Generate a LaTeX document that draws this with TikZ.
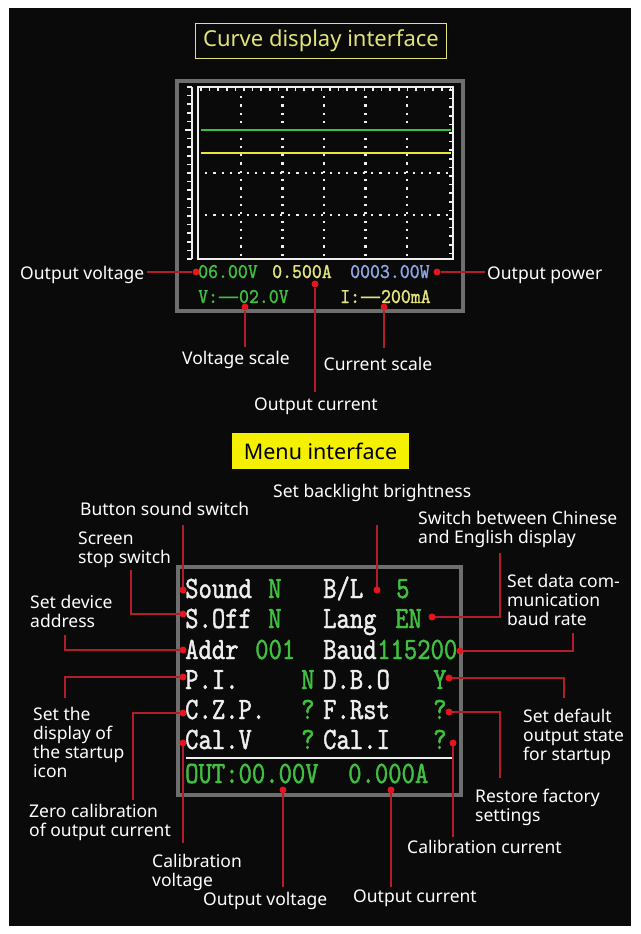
\documentclass[tikz,border=0pt]{standalone}
\usepackage{fontspec}
\setmainfont{Noto Sans}
\newfontfamily\lcdA[FakeStretch=0.9,FakeBold=1.2]{lmmono10-regular.otf}
\newfontfamily\lcdB[FakeStretch=0.82,FakeBold=1.4]{lmmono10-regular.otf}
\newfontfamily\dashfont{Noto Sans}
\definecolor{lnred}{HTML}{B01E2C}
\definecolor{dotred}{HTML}{E3151F}
\definecolor{scrgreen}{HTML}{40C040}
\definecolor{scryellow}{HTML}{E4E47C}
\definecolor{lineyellow}{HTML}{E6E63C}
\definecolor{scrblue}{HTML}{8EA6E4}
\definecolor{framegray}{HTML}{6E6E6E}
\definecolor{ttlyellow}{HTML}{F4F000}
\definecolor{ttlpale}{HTML}{E2E27A}
\definecolor{bgblack}{HTML}{0A0A0A}
\definecolor{scrwhite}{HTML}{EEEEEE}
\begin{document}
\begin{tikzpicture}[x=1pt,y=-1pt,
  lbl/.style={text=white, font=\fontsize{17.5}{19.3}\selectfont, inner sep=0pt, align=left},
  conn/.style={draw=lnred, line width=2pt},
  rdot/.style={circle, fill=dotred, minimum size=7pt, inner sep=0pt},
  ctxt/.style={font=\lcdA\fontsize{21}{21}\selectfont, inner sep=0pt, anchor=base west},
  mtxt/.style={font=\lcdB\fontsize{31}{31}\selectfont, inner sep=0pt, anchor=base west},
  frame/.style={draw=framegray, line width=4pt},
  grid/.style={draw=scrwhite, line width=2.2pt, dash pattern=on 2.2pt off 6.1pt}]
\useasboundingbox (0,0) rectangle (640,934);
\fill[white] (0,0) rectangle (640,934);
\fill[bgblack] (9,8) rectangle (631,926);

% ---------- Curve display interface ----------
\node[draw=ttlpale, line width=1.5pt, text=ttlpale, font=\fontsize{22}{22}\selectfont,
      minimum width=251pt, minimum height=35pt, inner sep=0pt] (ttlCurve) at (321,41) {Curve display interface};

\draw[frame] (177,81) rectangle (462.5,311);
% plot area
\draw[scrwhite, line width=2pt] (198,87) rectangle (453,259);
\foreach \i in {0,...,29} \draw[scrwhite, line width=1.5pt] ({201+\i*8.6},87) -- ++(0,4);
\foreach \i in {0,...,19} \draw[scrwhite, line width=1.5pt] (453,{90+\i*8.6}) -- ++(-4,0);
\draw[scrwhite, line width=1.8pt] (192,87) -- (192,259);
\foreach \i in {0,...,20} \draw[scrwhite, line width=1.5pt] (187,{87+\i*8.6}) -- (192,{87+\i*8.6});
\draw[scrwhite, line width=1.5pt] (185,130) -- (192,130);
\foreach \x in {241,282.5,324,365.5,407} \draw[grid] (\x,96) -- (\x,258);
\foreach \y in {173,215} \draw[grid] (205,\y) -- (452,\y);
\draw[scrgreen, line width=2.5pt] (201,130) -- (451,130);
\draw[lineyellow, line width=2pt] (201,153) -- (451,153);

\node[ctxt, text=scrgreen] (cV) at (198,278) {06.00V};
\node[ctxt, text=scryellow] (cI) at (272,278) {0.500A};
\node[ctxt, text=scrblue] (cP) at (350,278) {0003.00W};
\node[ctxt, text=scrgreen] (cVs) at (198,303) {V:{\dashfont —}02.0V};
\node[ctxt, text=scryellow] (cIs) at (340,303) {I:{\dashfont —}200mA};

\node[lbl, anchor=base west] (lOVc) at (20,279) {Output voltage};
\node[lbl, anchor=base west] (lOPc) at (487,279) {Output power};
\node[lbl, anchor=base] (lVS) at (236,364) {Voltage scale};
\node[lbl, anchor=base] (lCS) at (378,370) {Current scale};
\node[lbl, anchor=base] (lOCc) at (316,410) {Output current};

\coordinate (cOV) at (147,272);
\coordinate (cOP) at (485,272);
\coordinate (cOC) at (315,392);
\coordinate (cVSe) at (245,347);
\coordinate (cCSe) at (384,348);
\node[rdot] (dOV) at (196,272) {};
\node[rdot] (dOP) at (437,272) {};
\node[rdot] (dOC) at (315,284) {};
\node[rdot] (dVS) at (245,307) {};
\node[rdot] (dCS) at (384,307) {};
\draw[conn] (dOV) -- (cOV);
\draw[conn] (dOP) -- (cOP);
\draw[conn] (dOC) -- (cOC);
\draw[conn] (dVS) -- (cVSe);
\draw[conn] (dCS) -- (cCSe);

% ---------- Menu interface ----------
\node[fill=ttlyellow, text=black, font=\fontsize{21.5}{21.5}\selectfont,
      minimum width=177pt, minimum height=36pt, inner sep=0pt] (ttlMenu) at (320.5,451) {Menu interface};

\draw[frame] (178,567) rectangle (461,795);
\node[mtxt, text=scrwhite] (mSound) at (185,598) {Sound};
\node[mtxt, text=scrgreen] (mSoundV) at (268,598) {N};
\node[mtxt, text=scrwhite] (mBL) at (323,598) {B/L};
\node[mtxt, text=scrgreen] (mBLV) at (396,598) {5};
\node[mtxt, text=scrwhite] (mSOff) at (185,628) {S.Off};
\node[mtxt, text=scrgreen] (mSOffV) at (268,628) {N};
\node[mtxt, text=scrwhite] (mLang) at (323,628) {Lang};
\node[mtxt, text=scrgreen] (mLangV) at (395,628) {EN};
\node[mtxt, text=scrwhite] (mAddr) at (185,659) {Addr};
\node[mtxt, text=scrgreen] (mAddrV) at (255,659) {001};
\node[mtxt, text=scrwhite] (mBaud) at (323,659) {Baud};
\node[mtxt, text=scrgreen] (mBaudV) at (377,659) {115200};
\node[mtxt, text=scrwhite] (mPI) at (185,689) {P.I.};
\node[mtxt, text=scrgreen] (mPIV) at (301,689) {N};
\node[mtxt, text=scrwhite] (mDBO) at (323,689) {D.B.O};
\node[mtxt, text=scrgreen] (mDBOV) at (433,689) {Y};
\node[mtxt, text=scrwhite] (mCZP) at (185,719) {C.Z.P.};
\node[mtxt, text=scrgreen] (mCZPV) at (301,719) {?};
\node[mtxt, text=scrwhite] (mFRst) at (323,719) {F.Rst};
\node[mtxt, text=scrgreen] (mFRstV) at (433,719) {?};
\node[mtxt, text=scrwhite] (mCalV) at (185,749) {Cal.V};
\node[mtxt, text=scrgreen] (mCalVV) at (301,749) {?};
\node[mtxt, text=scrwhite] (mCalI) at (323,749) {Cal.I};
\node[mtxt, text=scrgreen] (mCalIV) at (433,749) {?};
\draw[scrwhite, line width=2.5pt] (186,758) -- (453,758);
\node[mtxt, text=scrgreen] (mOutV) at (185,783) {OUT:00.00V};
\node[mtxt, text=scrgreen] (mOutI) at (348,783) {0.000A};

% labels
\node[lbl, anchor=base west] (lBL) at (273,497) {Set backlight brightness};
\node[lbl, anchor=base west] (lBS) at (80,515) {Button sound switch};
\node[lbl, anchor=north west] (lSS) at (78,530.35) {\strut Screen\\stop switch};
\node[lbl, anchor=north west] (lLang) at (418,510.35) {\strut Switch between Chinese\\and English display};
\node[lbl, anchor=north west] (lAddr) at (30,594.35) {\strut Set device\\address};
\node[lbl, anchor=north west] (lPI) at (33,706.35) {\strut Set the\\display of\\the startup\\icon};
\node[lbl, anchor=north west] (lCZP) at (29,803.35) {\strut Zero calibration\\of output current};
\node[lbl, anchor=north west] (lCalV) at (152,853.35) {\strut Calibration\\voltage};
\node[lbl, anchor=north west] (lBaud) at (507,573.35) {\strut Set data com-\\munication\\baud rate};
\node[lbl, anchor=north west] (lDBO) at (523,708.35) {\strut Set default\\output state\\for startup};
\node[lbl, anchor=north west] (lFRst) at (475,788.35) {\strut Restore factory\\settings};
\node[lbl, anchor=base west] (lCalI) at (407,853) {Calibration current};
\node[lbl, anchor=base west] (lOutV) at (203,905) {Output voltage};
\node[lbl, anchor=base west] (lOutI) at (353,902) {Output current};

% connector ends
\coordinate (eSound) at (183,525);
\coordinate (eSOff) at (131,570);
\coordinate (eAddr) at (65,635);
\coordinate (ePI) at (65,698);
\coordinate (eCZP) at (133,800);
\coordinate (eCalV) at (183,843);
\coordinate (eBL) at (377,525);
\coordinate (eLang) at (500,553);
\coordinate (eBaud) at (573,633);
\coordinate (eDBO) at (564,698);
\coordinate (eFRst) at (500,778);
\coordinate (eCalI) at (453,837);
\coordinate (eOutV) at (283,887);
\coordinate (eOutI) at (391,887);

\draw[conn] (183,590) -- (eSound);
\draw[conn] (183,614) -| (eSOff);
\draw[conn] (183,650) -| (eAddr);
\draw[conn] (183,677) -| (ePI);
\draw[conn] (183,713) -| (eCZP);
\draw[conn] (183,743) -- (eCalV);
\draw[conn] (377,590) -- (eBL);
\draw[conn] (432,617) -| (eLang);
\draw[conn] (460,651) -| (eBaud);
\draw[conn] (449,678) -| (eDBO);
\draw[conn] (449,712) -| (eFRst);
\draw[conn] (453,743) -- (eCalI);
\draw[conn] (283,790) -- (eOutV);
\draw[conn] (391,790) -- (eOutI);

\node[rdot] (dSound) at (183,590) {};
\node[rdot] (dSOff) at (183,614) {};
\node[rdot] (dAddr) at (183,650) {};
\node[rdot] (dPI) at (183,677) {};
\node[rdot] (dCZP) at (183,713) {};
\node[rdot] (dCalV) at (183,743) {};
\node[rdot] (dBL) at (377,590) {};
\node[rdot] (dLang) at (432,617) {};
\node[rdot] (dBaud) at (460,651) {};
\node[rdot] (dDBO) at (449,678) {};
\node[rdot] (dFRst) at (449,712) {};
\node[rdot] (dCalI) at (453,743) {};
\node[rdot] (dOutV) at (283,790) {};
\node[rdot] (dOutI) at (391,790) {};
\end{tikzpicture}
\end{document}
